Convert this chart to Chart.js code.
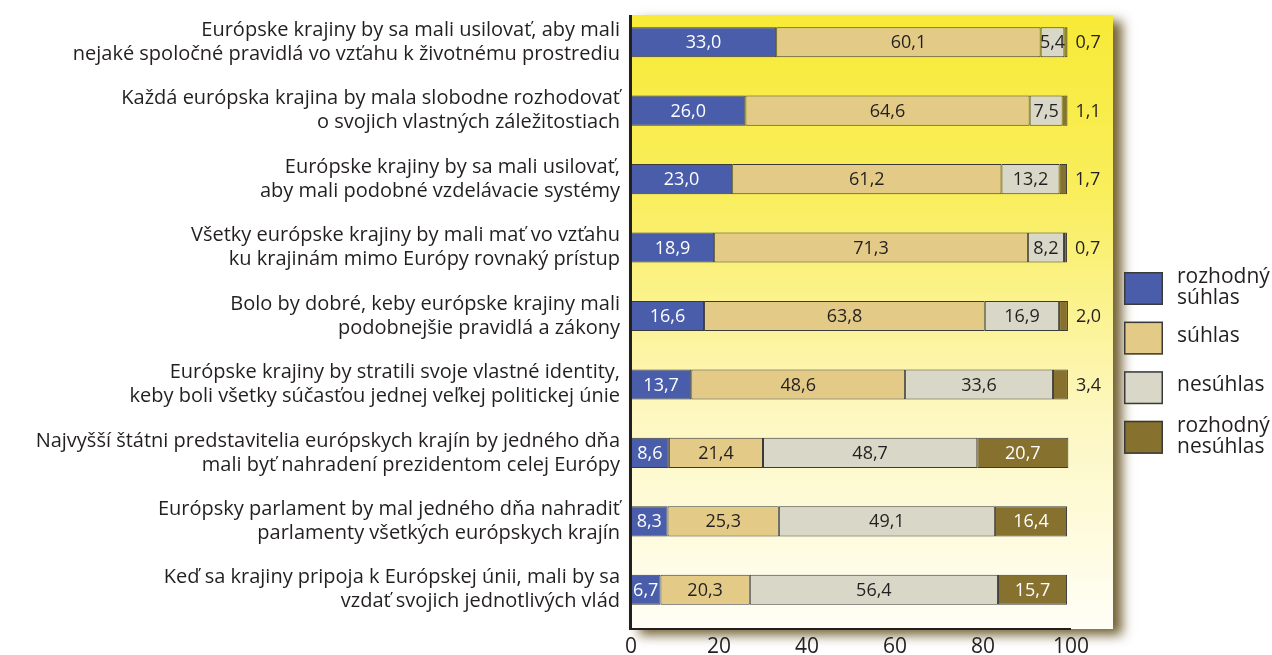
<!DOCTYPE html>
<html lang="sk">
<head>
<meta charset="utf-8">
<title>Postoje k európskej spolupráci</title>
<script src="https://cdn.jsdelivr.net/npm/chart.js@4"></script>
<style>
  html, body { margin: 0; padding: 0; background: #fff; }
  #wrap { width: 1272px; height: 655px; position: relative; }
</style>
</head>
<body>
<div id="wrap"><canvas id="graf"></canvas></div>
<script>
// tvrdenia (dva riadky na každé)
const tvrdenia = [
  ['Európske krajiny by sa mali usilovať, aby mali', 'nejaké spoločné pravidlá vo vzťahu k životnému prostrediu'],
  ['Každá európska krajina by mala slobodne rozhodovať', 'o svojich vlastných záležitostiach'],
  ['Európske krajiny by sa mali usilovať,', 'aby mali podobné vzdelávacie systémy'],
  ['Všetky európske krajiny by mali mať vo vzťahu', 'ku krajinám mimo Európy rovnaký prístup'],
  ['Bolo by dobré, keby európske krajiny mali', 'podobnejšie pravidlá a zákony'],
  ['Európske krajiny by stratili svoje vlastné identity,', 'keby boli všetky súčasťou jednej veľkej politickej únie'],
  ['Najvyšší štátni predstavitelia európskych krajín by jedného dňa', 'mali byť nahradení prezidentom celej Európy'],
  ['Európsky parlament by mal jedného dňa nahradiť', 'parlamenty všetkých európskych krajín'],
  ['Keď sa krajiny pripoja k Európskej únii, mali by sa', 'vzdať svojich jednotlivých vlád']
];

const rozhodnySuhlas   = [33.0, 26.0, 23.0, 18.9, 16.6, 13.7, 8.6, 8.3, 6.7];
const suhlas           = [60.1, 64.6, 61.2, 71.3, 63.8, 48.6, 21.4, 25.3, 20.3];
const nesuhlas         = [5.4, 7.5, 13.2, 8.2, 16.9, 33.6, 48.7, 49.1, 56.4];
const rozhodnyNesuhlas = [0.7, 1.1, 1.7, 0.7, 2.0, 3.4, 20.7, 16.4, 15.7];

const nazvySerii = [['rozhodný', 'súhlas'], ['súhlas'], ['nesúhlas'], ['rozhodný', 'nesúhlas']];
const xTicky = [0, 20, 40, 60, 80, 100];

const farby = ['#4a5dab', '#e3cb87', '#d9d8c8', '#87712f'];
const farbyTextu = ['#ffffff', '#231f20', '#231f20', '#ffffff'];
const PISMO = '"Open Sans", "Noto Sans", sans-serif';
const TMAVA = '#231f20';

const ciarka = v => v.toFixed(1).replace('.', ',');

// pozadie grafu so žltým prechodom a tieňom
const pozadie = {
  id: 'pozadie',
  beforeDraw(chart) {
    const { ctx, chartArea: a } = chart;
    const x0 = a.left - 1, y0 = a.top + 7, x1 = a.right - 2, y1 = a.bottom + 5;
    ctx.save();
    ctx.shadowColor = 'rgba(100, 80, 30, 0.9)';
    ctx.shadowBlur = 11;
    ctx.shadowOffsetX = 9;
    ctx.shadowOffsetY = 6;
    ctx.fillStyle = '#fffef6';
    ctx.fillRect(x0, y0, x1 - x0, y1 - y0);
    ctx.restore();
    const g = ctx.createLinearGradient(0, y0, 0, y1);
    g.addColorStop(0, '#f8ea36');
    g.addColorStop(0.3, '#f9ee5e');
    g.addColorStop(0.65, '#fdf7c0');
    g.addColorStop(1, '#fffef6');
    ctx.fillStyle = g;
    ctx.fillRect(x0, y0, x1 - x0, y1 - y0);
  },
  afterDatasetsDraw(chart) {
    const { ctx, chartArea: a, scales } = chart;
    ctx.save();
    ctx.strokeStyle = TMAVA;
    ctx.lineWidth = 3;
    ctx.beginPath();
    ctx.moveTo(a.left - 0.5, a.top + 7);
    ctx.lineTo(a.left - 0.5, a.bottom + 6);
    ctx.stroke();
    ctx.lineWidth = 2;
    ctx.beginPath();
    ctx.moveTo(a.left - 2, a.bottom + 5);
    ctx.lineTo(scales.x.getPixelForValue(100), a.bottom + 5);
    ctx.stroke();
    ctx.restore();
  }
};

// hodnoty v pruhoch, malé posledné hodnoty vedľa pruhu
const popisky = {
  id: 'popisky',
  afterDatasetsDraw(chart) {
    const { ctx } = chart;
    ctx.save();
    ctx.font = '18px ' + PISMO;
    ctx.textBaseline = 'middle';
    chart.data.datasets.forEach((ds, di) => {
      chart.getDatasetMeta(di).data.forEach((bar, i) => {
        const v = ds.data[i];
        const vonku = di === 3 && v < 5;
        if (vonku) {
          ctx.textAlign = 'left';
          ctx.fillStyle = TMAVA;
          ctx.fillText(ciarka(v), bar.x + 8, bar.y + 1);
        } else {
          ctx.textAlign = 'center';
          ctx.fillStyle = farbyTextu[di];
          ctx.fillText(ciarka(v), (bar.x + bar.base) / 2, bar.y + 1);
        }
      });
    });
    ctx.restore();
  }
};

// legenda vpravo s dvojriadkovými názvami
const legenda = {
  id: 'legenda',
  afterDraw(chart) {
    const { ctx, chartArea: a } = chart;
    const lx = a.right + 9;
    let ly = a.top + 264;
    ctx.save();
    ctx.font = '21px ' + PISMO;
    ctx.textBaseline = 'middle';
    ctx.textAlign = 'left';
    nazvySerii.forEach((riadky, i) => {
      ctx.fillStyle = farby[i];
      ctx.fillRect(lx, ly, 39, 33);
      ctx.strokeStyle = '#3a3a3a';
      ctx.lineWidth = 1.5;
      ctx.strokeRect(lx + 0.75, ly + 0.75, 37.5, 31.5);
      ctx.fillStyle = TMAVA;
      const stred = ly + 16;
      riadky.forEach((t, r) => {
        const dy = riadky.length === 1 ? -2 : (r === 0 ? -11 : 10);
        ctx.fillText(t, lx + 53, stred + dy);
      });
      ly += 49.6;
    });
    ctx.restore();
  }
};

const mk = (i, data) => ({
  label: nazvySerii[i].join(' '),
  data,
  backgroundColor: farby[i],
  borderColor: '#3a3a3a',
  borderWidth: 1,
  borderSkipped: false,
  barPercentage: 1,
  categoryPercentage: 0.44
});

new Chart(document.getElementById('graf'), {
  type: 'bar',
  data: {
    labels: tvrdenia,
    datasets: [
      mk(0, rozhodnySuhlas),
      mk(1, suhlas),
      mk(2, nesuhlas),
      mk(3, rozhodnyNesuhlas)
    ]
  },
  options: {
    indexAxis: 'y',
    responsive: true,
    maintainAspectRatio: false,
    animation: false,
    layout: { padding: { top: 8, right: 157, left: 0, bottom: 0 } },
    plugins: {
      legend: { display: false },
      tooltip: { enabled: false }
    },
    scales: {
      x: {
        stacked: true,
        min: 0,
        max: 110,
        afterBuildTicks: s => { s.ticks = xTicky.map(v => ({ value: v })); },
        afterFit: s => { s.height = 31; s.paddingLeft = 0; s.paddingRight = 0; },
        grid: { display: false, drawTicks: false },
        border: { display: false },
        ticks: { padding: 10, color: TMAVA, font: { family: PISMO, size: 21 } }
      },
      y: {
        stacked: true,
        afterFit: s => { s.width = 631; s.paddingTop = 0; s.paddingBottom = 0; },
        grid: { display: false, drawTicks: false },
        border: { display: false },
        ticks: { padding: 11, color: TMAVA, font: { family: PISMO, size: 20, lineHeight: 1.2 } }
      }
    }
  },
  plugins: [pozadie, popisky, legenda]
});
</script>
</body>
</html>
